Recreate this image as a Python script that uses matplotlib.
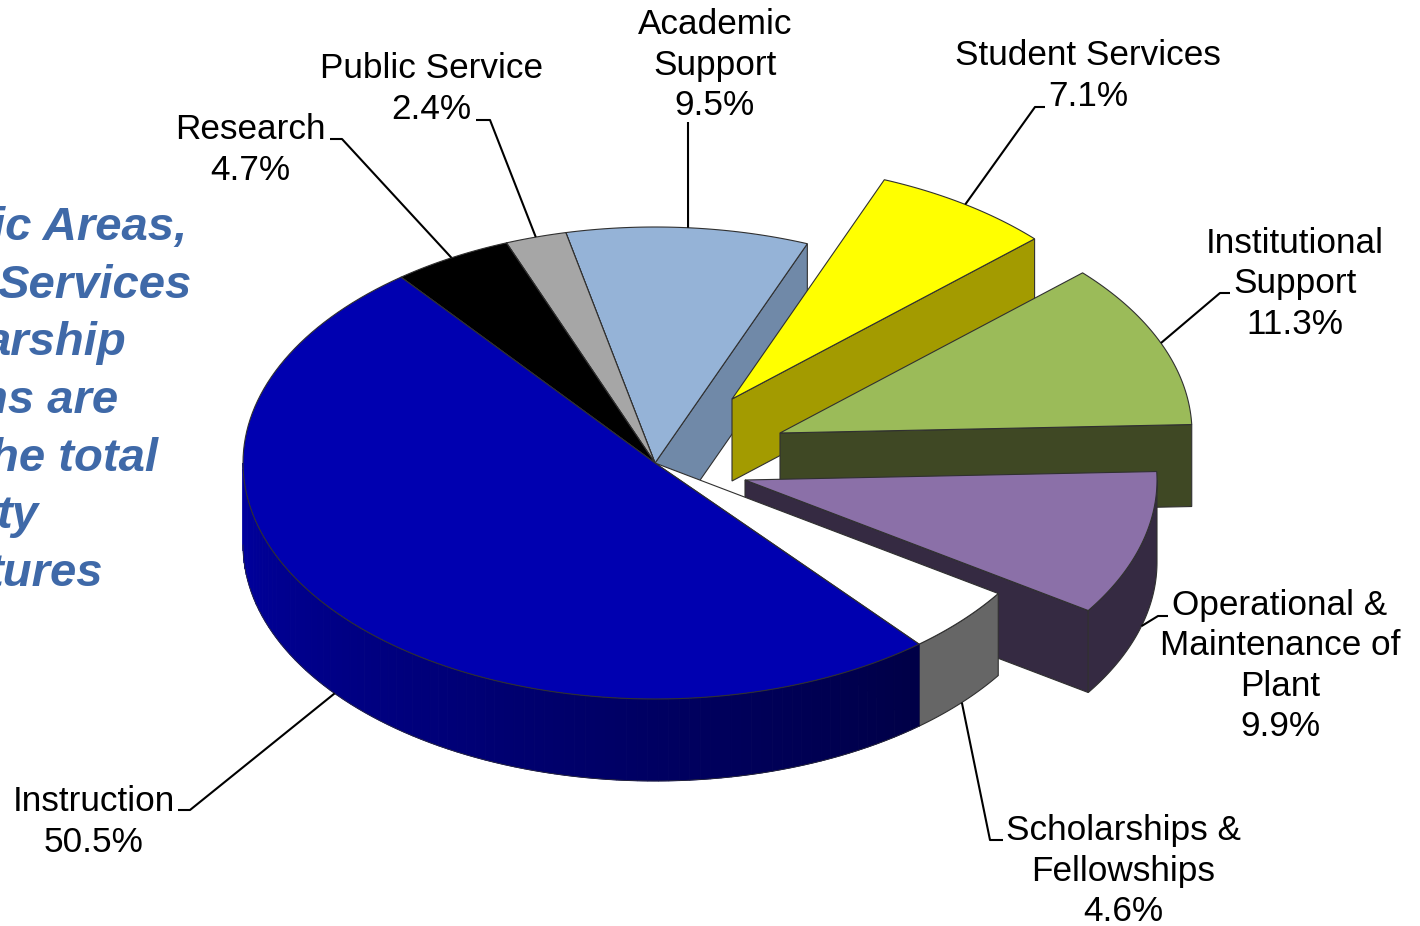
#!/usr/bin/env python3
"""Exploded 3D style pie of expenditures, drawn by hand since matplotlib has no 3D pie."""

import numpy as np
import matplotlib

matplotlib.use("Agg")
import matplotlib.pyplot as plt
from matplotlib.patches import Polygon

# clockwise from the top, starting with Academic Support
names = ["Academic\nSupport", "Student Services", "Institutional\nSupport",
         "Operational &\nMaintenance of\nPlant", "Scholarships &\nFellowships",
         "Instruction", "Research", "Public Service"]
shares = [9.5, 7.1, 11.3, 9.9, 4.6, 50.5, 4.7, 2.4]
top_colors = ["#95b3d7", "#ffff00", "#9bbb59", "#8b70a8", "#ffffff", "#0000b0", "#000000", "#a6a6a6"]
wall_colors = ["#7089a8", "#a39b00", "#3f4824", "#352a42", "#666666", "#000090", "#000000", "#666666"]
explode = [(0, 0), (77, -64), (125, -30), (90, 17), (0, 0), (0, 0), (0, 0), (0, 0)]

# label centre and leader elbow, in pixels
label_pos = [(715, 65), (1088, 76), (1295, 284), (1280, 666), (1123, 871), (94, 822), (250, 150), (431, 89)]
leader_elbow = [
    [(688, 122)],
    [(1035, 107), (1045, 107)],
    [(1220, 293), (1230, 293)],
    [(1158, 616), (1168, 616)],
    [(990, 840), (1003, 840)],
    [(190, 810), (178, 810)],
    [(342, 139), (330, 139)],
    [(490, 120), (476, 120)],
]

side_lines = ["ic Areas,", "Services", "arship", "ns are", "he total", "ty", "tures"]
side_right = [187, 192, 127, 118, 158, 38, 103]

CX, CY = 655, 463
RX, RY = 412, 236
DEPTH = 82
START = 102.5  # angle where Academic Support ends (going clockwise from here)
EDGE = "#303030"

plt.rcParams["font.family"] = ["Liberation Sans", "DejaVu Sans"]

fig = plt.figure(figsize=(14.2, 9.26), dpi=100)
ax = fig.add_axes([0, 0, 1, 1])
ax.set_xlim(0, 1420)
ax.set_ylim(926, 0)
ax.axis("off")


def rim(angles, off=(0, 0), drop=0):
    rad = np.radians(angles)
    return np.column_stack([CX + off[0] + RX * np.cos(rad), CY + off[1] + drop - RY * np.sin(rad)])


# slice angle ranges
bounds = START - np.cumsum([0] + shares) * 3.6
slices = []
for i in range(len(shares)):
    slices.append((bounds[i + 1], bounds[i], explode[i], top_colors[i], wall_colors[i], i))


def draw_slice(lo, hi, off, top, wall, idx, z):
    apex = np.array([CX + off[0], CY + off[1]])
    down = np.array([0, DEPTH])
    arc = rim(np.linspace(lo, hi, 120), off)

    # cut face on the right side, seen when the edge points towards the viewer
    edge_pt = rim([lo], off)[0]
    ax.add_patch(Polygon([apex, edge_pt, edge_pt + down, apex + down], closed=True,
                         fc=wall, ec=EDGE, lw=0.8, zorder=z))

    # outer wall, only the part below the equator shows
    a0, a1 = lo, min(hi, 0) if lo < 0 else lo
    if lo < -180:
        a1 = min(hi, -0.0)
        a0 = max(lo, -180)
    if a1 > a0:
        if top == "#0000b0":
            # instruction wall fades from left to right
            steps = np.linspace(a0, a1, 90)
            for s0, s1 in zip(steps[:-1], steps[1:]):
                t = (s0 - a0) / (a1 - a0)
                col = (0, 0, (0xa0 + (0x46 - 0xa0) * t) / 255)
                seg = rim(np.linspace(s0, s1, 4), off)
                ax.add_patch(Polygon(np.vstack([seg, seg[::-1] + down]), closed=True,
                                     fc=col, ec=col, lw=0.7, zorder=z))
            seg = rim(np.linspace(a0, a1, 160), off)
            ax.plot(*(seg + down).T, color=EDGE, lw=0.5, zorder=z)
        else:
            seg = rim(np.linspace(a0, a1, 80), off)
            ax.add_patch(Polygon(np.vstack([seg, seg[::-1] + down]), closed=True,
                                 fc=wall, ec=EDGE, lw=0.8, zorder=z))

    ax.add_patch(Polygon(np.vstack([apex, arc]), closed=True, fc=top, ec=EDGE, lw=0.8, zorder=z + 0.5))


# back to front
draw_order = [0, 7, 6, 1, 2, 3, 4, 5]
for z, i in enumerate(draw_order, start=2):
    draw_slice(*slices[i], z)

for i, name in enumerate(names):
    lo, hi, off = slices[i][:3]
    mid = (lo + hi) / 2
    drop = DEPTH if np.sin(np.radians(mid)) < 0 else 0
    anchor = rim([mid], off, drop)[0]
    pts = np.vstack([anchor, leader_elbow[i]])
    ax.plot(pts[:, 0], pts[:, 1], color="black", lw=1.5, zorder=20, solid_capstyle="butt")
    ax.text(*label_pos[i], f"{name}\n{shares[i]}%", ha="center", va="center", ma="center",
            fontsize=25.3, linespacing=1.27, color="black", zorder=21)

for k, line in enumerate(side_lines):
    ax.text(side_right[k], 228 + k * 57.7, line, ha="right", va="center", fontsize=34,
            fontstyle="italic", fontweight="bold", color="#3f69a8", zorder=21)

fig.savefig("out.png", dpi=100)
